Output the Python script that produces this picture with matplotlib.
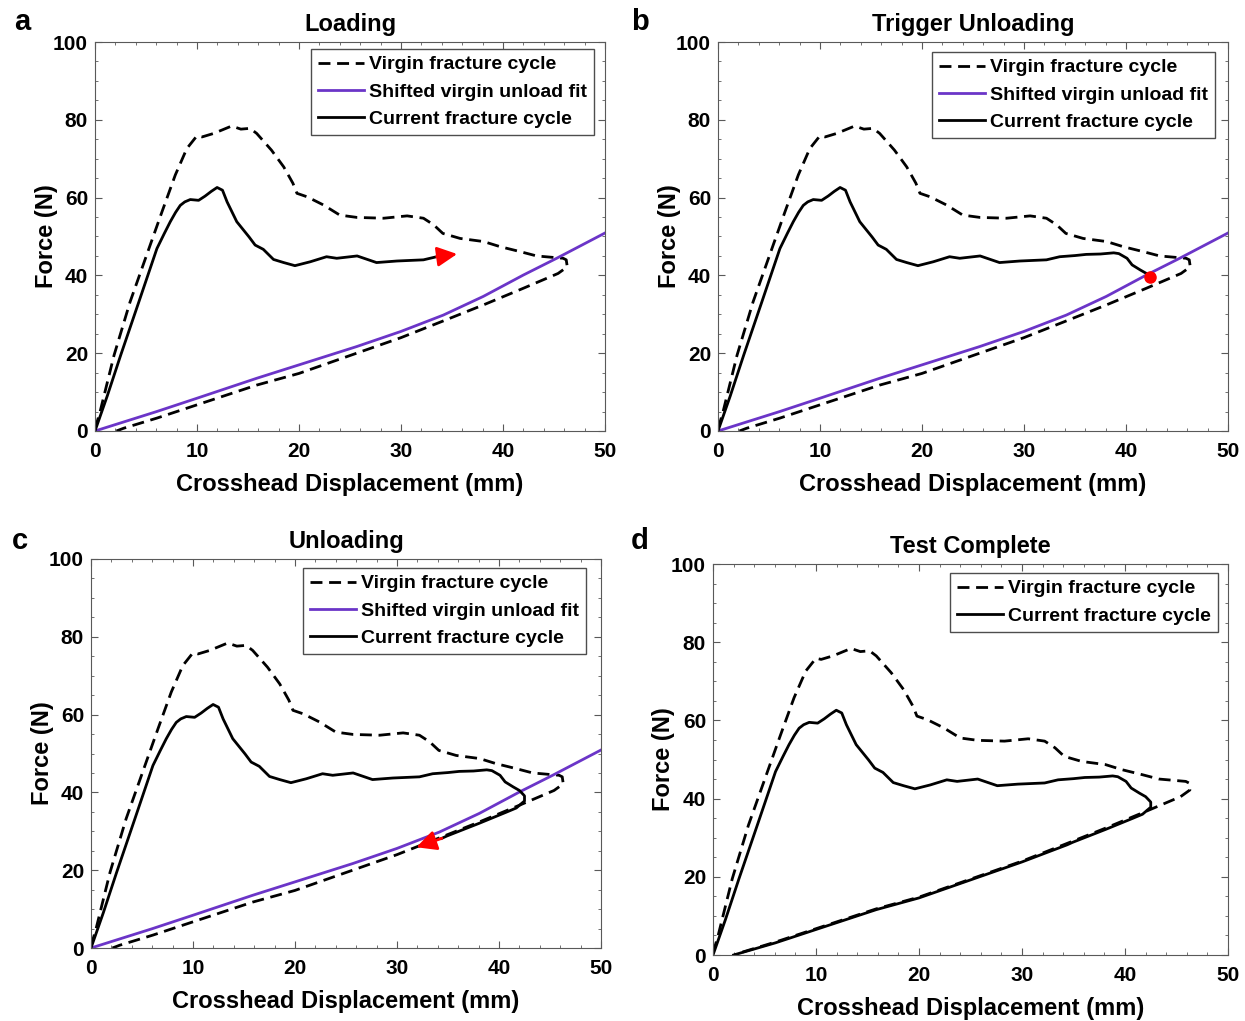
import matplotlib
matplotlib.use('Agg')
import matplotlib.pyplot as plt

plt.rcParams['font.family'] = ['Liberation Sans', 'DejaVu Sans']
plt.rcParams['font.weight'] = 'bold'

# virgin fracture cycle (loading + unloading)
virgin_x = [0, 0.5, 1.87, 3.44, 5.41, 6.56, 7.87, 9.0, 10.0, 10.5, 11.64, 13.4, 14.3, 15.2,
            15.85, 17.3, 18.5, 19.4, 19.8, 20.8, 22.4, 24.0, 25.7, 28.3, 30.6, 32.2,
            33.2, 34.1, 35.8, 38.1, 39.7, 41.7, 43.3, 45.9, 46.2, 46.3, 45.4, 42.0,
            38.07, 34.15, 30.0, 25.65, 20.0, 15.85, 9.97, 6.05, 2.8, 2.1]
virgin_y = [0.5, 5.0, 19.5, 33.2, 47.8, 56.3, 65.8, 72.6, 75.9, 75.6, 76.5, 78.4, 77.6, 77.8,
            76.5, 72.2, 67.9, 63.7, 61.1, 60.2, 58.1, 55.5, 54.9, 54.7, 55.3, 54.7,
            53.0, 50.8, 49.5, 48.7, 47.4, 46.1, 45.0, 44.4, 44.0, 42.2, 40.5, 36.7,
            32.4, 28.3, 24.0, 20.0, 14.8, 11.8, 6.7, 3.3, 0.7, 0]

# shifted virgin unload fit
fit_x = [0, 6.05, 9.97, 15.85, 20.0, 25.65, 30.0, 34.15, 38.07, 40.0, 42.0, 45.26, 50.0]
fit_y = [0, 5.0, 8.4, 13.55, 17.0, 21.7, 25.6, 29.8, 34.6, 37.3, 40.1, 44.4, 50.9]

# current fracture cycle: loading up to panel a arrow
load_x = [0, 1.2, 2.52, 4.3, 6.07, 6.8, 7.38, 7.9, 8.36, 8.8, 9.34, 10.16, 10.8, 11.4,
          11.97, 12.5, 12.95, 13.9, 15.1, 15.7, 16.5, 17.5, 18.5, 19.6, 21.1, 22.7, 23.7,
          25.7, 27.6, 29.6, 32.2, 33.5]
load_y = [0, 9.0, 19.5, 33.2, 46.9, 50.8, 53.8, 56.2, 58.0, 58.9, 59.5, 59.3, 60.4, 61.6,
          62.6, 61.9, 58.9, 53.8, 49.9, 47.8, 46.7, 44.1, 43.3, 42.5, 43.5, 44.8, 44.4,
          45.0, 43.3, 43.7, 44.0, 44.8]
# continuation until unload trigger
trig_x = [33.5, 35.0, 36.1, 37.5, 38.8, 39.3, 40.1, 40.6, 41.4, 42.0, 42.4]
trig_y = [44.8, 45.1, 45.4, 45.5, 45.8, 45.6, 44.4, 42.7, 41.4, 40.5, 39.4]
# unloading
unload_x = [42.4, 42.5, 42.5, 41.7, 40.7, 38.1, 34.9, 34.4, 30.0, 25.65, 20.0, 15.85,
            9.97, 6.05, 2.0]
unload_y = [39.4, 39.1, 37.8, 36.0, 34.9, 32.1, 28.8, 28.2, 23.8, 19.8, 14.6, 11.6,
            6.5, 3.1, 0]
n_unload_c = 8  # points drawn in panel c before the arrow

arrow_a_tip = (35.5, 45.5)
arrow_c_tip = (31.9, 25.9)
trigger_pt = (42.4, 39.6)

purple = '#6b35c8'
DASH = (4.3, 2.4)

W, H = 1245, 1021
fig = plt.figure(figsize=(W / 100, H / 100), dpi=100)


def make_ax(l, t, r, b):
    ax = fig.add_axes([l / W, 1 - b / H, (r - l) / W, (b - t) / H])
    ax.set_xlim(0, 50)
    ax.set_ylim(0, 100)
    ax.set_xticks(range(0, 51, 10))
    ax.set_yticks(range(0, 101, 20))
    ax.set_xticks(range(0, 51, 2), minor=True)
    ax.set_yticks(range(0, 101, 5), minor=True)
    ax.tick_params(which='both', direction='in', top=True, right=True,
                   color='0.35', labelsize=15)
    ax.tick_params(which='major', length=5)
    ax.tick_params(which='minor', length=2.5)
    ax.tick_params(axis='x', pad=8)
    ax.tick_params(axis='y', pad=5)
    for lab in ax.get_xticklabels() + ax.get_yticklabels():
        lab.set_fontweight('bold')
    for s in ax.spines.values():
        s.set_color('0.35')
    ax.set_xlabel('Crosshead Displacement (mm)', fontsize=17, fontweight='bold')
    ax.set_ylabel('Force (N)', fontsize=17, fontweight='bold')
    ax.xaxis.set_label_coords(0.5, -(473 - 431) / 389)
    ax.yaxis.set_label_coords(-0.072, 0.5)
    return ax


def add_legend(ax, handles, labels, dx, dy, w, h):
    leg = ax.legend(handles, labels, loc='upper right',
                    bbox_to_anchor=(1 - dx / w, 1 - dy / h), borderaxespad=0,
                    fontsize=14, handlelength=2.4, handletextpad=0.25,
                    labelspacing=0.5, borderpad=0.35, fancybox=False,
                    edgecolor='0.3', framealpha=1)
    leg.get_frame().set_linewidth(1.0)
    for t in leg.get_texts():
        t.set_fontweight('bold')


def draw_common(ax):
    h1, = ax.plot(virgin_x, virgin_y, color='black', lw=2, dashes=DASH)
    h2, = ax.plot(fit_x, fit_y, color=purple, lw=2)
    return h1, h2


panels = [(95, 42, 605, 431), (718, 42, 1228, 431), (91, 559, 601, 948), (713, 564, 1228, 955)]
titles = ['Loading', 'Trigger Unloading', 'Unloading', 'Test Complete']
letters = [('a', 22, 22), ('b', 640, 22), ('c', 20, 541), ('d', 640, 541)]
leg_off = [(11, 7), (13, 10), (15, 9), (10, 9)]

axes = []
for i, p in enumerate(panels):
    ax = make_ax(*p)
    ax.set_title(titles[i], fontsize=17, fontweight='bold', pad=8)
    axes.append(ax)
    fig.text(letters[i][1] / W, 1 - letters[i][2] / H, letters[i][0], fontsize=21,
             fontweight='bold', ha='center', va='center')

arrow_kw = dict(arrowstyle='-|>', color='red', lw=2, mutation_scale=30,
                shrinkA=0, shrinkB=0)

# a: loading
ax = axes[0]
h1, h2 = draw_common(ax)
h3, = ax.plot(load_x, load_y, color='black', lw=2)
ax.annotate('', xy=arrow_a_tip, xytext=(load_x[-1], load_y[-1]), arrowprops=arrow_kw)
w, h = panels[0][2] - panels[0][0], panels[0][3] - panels[0][1]
add_legend(ax, [h1, h2, h3], ['Virgin fracture cycle', 'Shifted virgin unload fit',
                              'Current fracture cycle'], *leg_off[0], w, h)

# b: trigger unloading
ax = axes[1]
h1, h2 = draw_common(ax)
h3, = ax.plot(load_x + trig_x, load_y + trig_y, color='black', lw=2)
ax.plot(*trigger_pt, 'o', color='red', ms=8, zorder=5)
w, h = panels[1][2] - panels[1][0], panels[1][3] - panels[1][1]
add_legend(ax, [h1, h2, h3], ['Virgin fracture cycle', 'Shifted virgin unload fit',
                              'Current fracture cycle'], *leg_off[1], w, h)

# c: unloading
ax = axes[2]
h1, h2 = draw_common(ax)
cx = load_x + trig_x + unload_x[:n_unload_c]
cy = load_y + trig_y + unload_y[:n_unload_c]
h3, = ax.plot(cx, cy, color='black', lw=2)
ax.annotate('', xy=arrow_c_tip, xytext=(cx[-1], cy[-1]), arrowprops=arrow_kw)
w, h = panels[2][2] - panels[2][0], panels[2][3] - panels[2][1]
add_legend(ax, [h1, h2, h3], ['Virgin fracture cycle', 'Shifted virgin unload fit',
                              'Current fracture cycle'], *leg_off[2], w, h)

# d: test complete
ax = axes[3]
h1, = ax.plot(virgin_x, virgin_y, color='black', lw=2, dashes=DASH)
h3, = ax.plot(load_x + trig_x + unload_x, load_y + trig_y + unload_y, color='black', lw=2)
ax.xaxis.set_label_coords(0.5, -(997 - 955) / 391)
ax.yaxis.set_label_coords(-0.073, 0.5)
w, h = panels[3][2] - panels[3][0], panels[3][3] - panels[3][1]
add_legend(ax, [h1, h3], ['Virgin fracture cycle', 'Current fracture cycle'],
           *leg_off[3], w, h)

fig.savefig('out.png', dpi=100)
